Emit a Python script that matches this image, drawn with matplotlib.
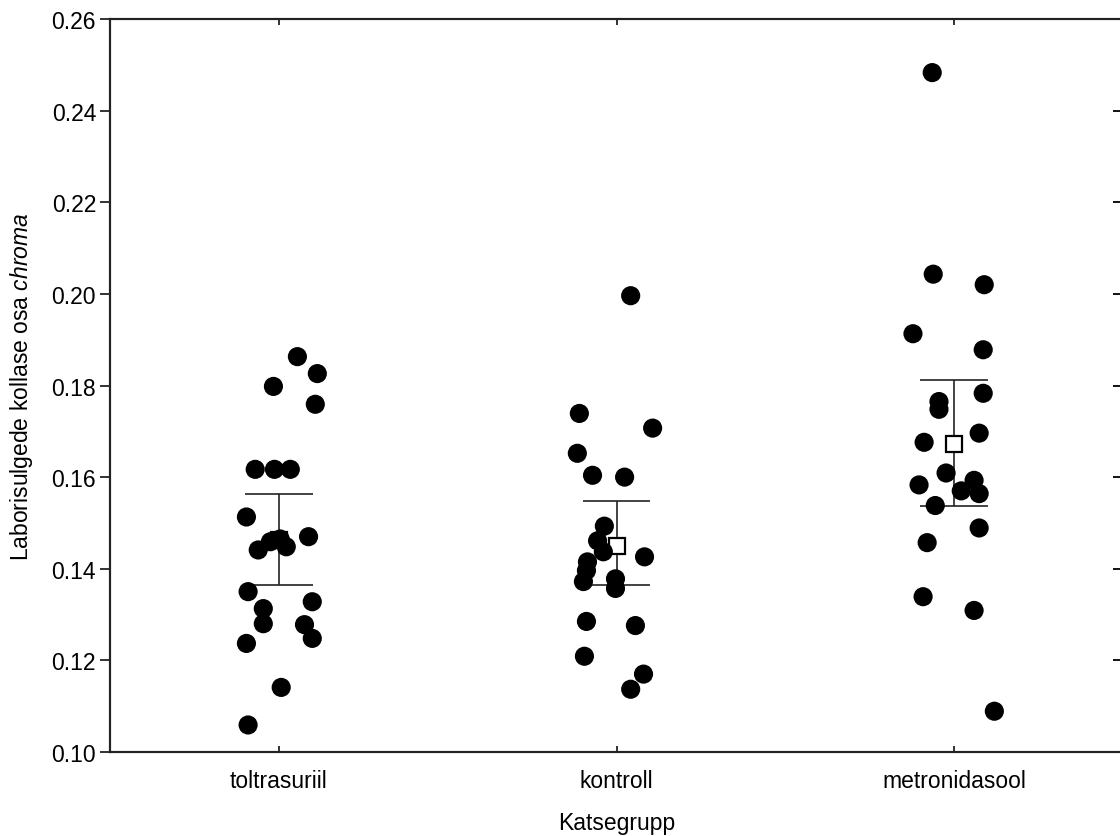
import matplotlib
matplotlib.use('Agg')
import matplotlib.pyplot as plt

plt.rcParams['font.family'] = ['Liberation Sans', 'DejaVu Sans']
plt.rcParams['mathtext.fontset'] = 'custom'
plt.rcParams['mathtext.rm'] = 'Liberation Sans'
plt.rcParams['mathtext.it'] = 'Liberation Sans:italic'

# groups on the x axis
groups = ['toltrasuriil', 'kontroll', 'metronidasool']

# individual values
tolt_vals = [0.1863, 0.1826, 0.1798, 0.1759, 0.1617, 0.1617, 0.1617, 0.1513, 0.1470,
             0.1441, 0.1459, 0.1465, 0.1448, 0.1350, 0.1328, 0.1313, 0.1280, 0.1278,
             0.1248, 0.1237, 0.1141, 0.1059]
tolt_jit = [0.055, 0.114, -0.016, 0.108, -0.070, -0.013, 0.034, -0.096, 0.088,
            -0.061, -0.025, 0.004, 0.022, -0.091, 0.099, -0.046, -0.046, 0.076,
            0.099, -0.096, 0.007, -0.091]

kontr_vals = [0.1996, 0.1739, 0.1707, 0.1652, 0.1604, 0.1600, 0.1493, 0.1461, 0.1437,
              0.1415, 0.1396, 0.1372, 0.1378, 0.1357, 0.1426, 0.1285, 0.1276, 0.1209,
              0.1170, 0.1137]
kontr_jit = [0.042, -0.110, 0.107, -0.116, -0.071, 0.024, -0.036, -0.056, -0.039,
             -0.086, -0.089, -0.098, -0.003, -0.003, 0.083, -0.089, 0.056, -0.095,
             0.080, 0.042]

metro_vals = [0.2483, 0.2043, 0.2020, 0.1913, 0.1878, 0.1783, 0.1765, 0.1748, 0.1696,
              0.1676, 0.1609, 0.1583, 0.1593, 0.1570, 0.1564, 0.1538, 0.1489, 0.1457,
              0.1339, 0.1309, 0.1089]
metro_jit = [-0.065, -0.062, 0.089, -0.122, 0.086, 0.086, -0.045, -0.045, 0.074,
             -0.089, -0.024, -0.104, 0.059, 0.021, 0.074, -0.056, 0.074, -0.080,
             -0.092, 0.059, 0.119]

# mean and 95% CI
means = [0.1463, 0.1450, 0.1672]
ci_low = [0.1365, 0.1365, 0.1538]
ci_high = [0.1563, 0.1548, 0.1813]

all_vals = [tolt_vals, kontr_vals, metro_vals]
all_jit = [tolt_jit, kontr_jit, metro_jit]

fig = plt.figure(figsize=(11.2, 8.37), dpi=100)
ax = fig.add_axes([110 / 1120, 1 - 753 / 837, 1013 / 1120, 733 / 837])

# error bars and mean markers first, points go on top
for i in range(len(groups)):
    ax.vlines(i, ci_low[i], ci_high[i], color='#222222', lw=1.2, zorder=2)
    ax.hlines([ci_low[i], ci_high[i]], i - 0.1, i + 0.1, color='#222222', lw=1.2, zorder=2)
    ax.plot(i, means[i], marker='s', ms=12, mfc='white', mec='black', mew=1.6,
            ls='none', zorder=3)

for i, (vals, jit) in enumerate(zip(all_vals, all_jit)):
    xs = [i + j for j in jit]
    ax.scatter(xs, vals, s=190, color='black', edgecolors='none', zorder=4)

ax.set_xlim(-0.5, 2.5)
ax.set_ylim(0.10, 0.26)
ax.set_xticks(range(len(groups)))
ax.set_xticklabels(groups, fontsize=16.5)
ax.set_yticks([0.10, 0.12, 0.14, 0.16, 0.18, 0.20, 0.22, 0.24, 0.26])
ax.set_yticklabels(['0.10', '0.12', '0.14', '0.16', '0.18', '0.20', '0.22', '0.24', '0.26'],
                   fontsize=16.5)
ax.tick_params(axis='y', direction='out', length=7, width=1.3, pad=3, colors='#222222',
               labelcolor='black')
ax.tick_params(axis='x', direction='in', length=4, width=1.3, pad=12, top=True,
               colors='#222222', labelcolor='black')

# right side ticks point inward
ax2 = ax.twinx()
ax2.set_ylim(ax.get_ylim())
ax2.set_yticks(ax.get_yticks())
ax2.tick_params(axis='y', direction='in', length=7, width=1.3, labelright=False)

for a in (ax, ax2):
    for sp in a.spines.values():
        sp.set_linewidth(1.5)
        sp.set_color('#222222')

ax.set_xlabel('Katsegrupp', fontsize=16.5, labelpad=14)
ax.set_ylabel('Laborisulgede kollase osa $\\mathit{chroma}$', fontsize=16.5, labelpad=12)

fig.savefig('out.png', dpi=100)
